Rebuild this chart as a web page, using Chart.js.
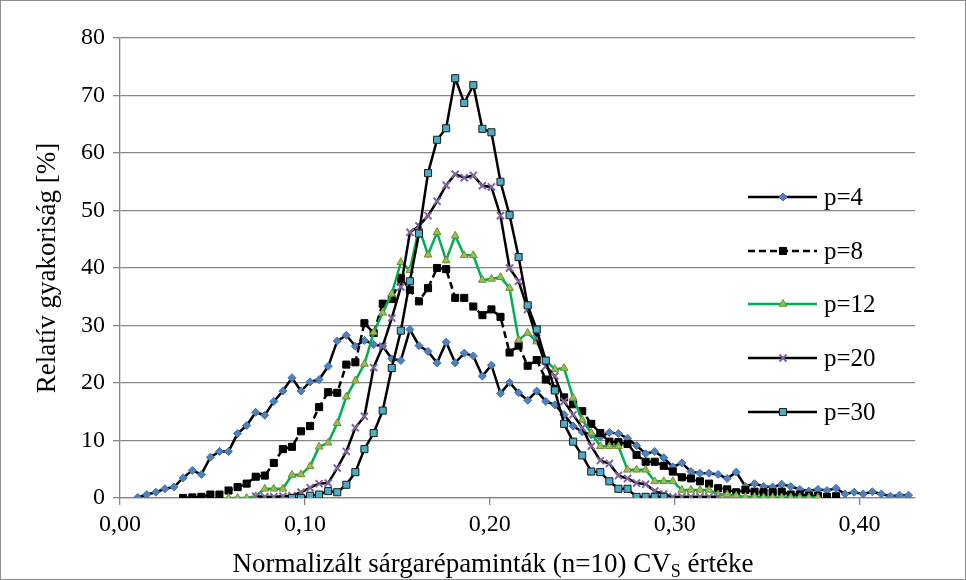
<!DOCTYPE html>
<html>
<head>
<meta charset="utf-8">
<script src="https://cdn.jsdelivr.net/npm/chart.js@4.4.0/dist/chart.umd.min.js"></script>
<style>
  html, body { margin: 0; background: #fff; }
  #wrap { width: 966px; height: 580px; position: relative; }
</style>
</head>
<body>
<div id="wrap"><canvas id="chart" width="966" height="580"></canvas></div>
<script>
// ===== CV eloszlás — relatív gyakoriság p szerint =====

// x bins (normalizált CV értékek), shared by all series
const cvBins = [
  0.0096, 0.0145, 0.0194, 0.0243, 0.0292, 0.0341, 0.0391, 0.0440, 0.0489, 0.0538,
  0.0587, 0.0636, 0.0685, 0.0734, 0.0783, 0.0832, 0.0881, 0.0930, 0.0979, 0.1028,
  0.1077, 0.1126, 0.1175, 0.1224, 0.1273, 0.1322, 0.1372, 0.1421, 0.1470, 0.1519,
  0.1568, 0.1617, 0.1666, 0.1715, 0.1764, 0.1813, 0.1862, 0.1911, 0.1960, 0.2009,
  0.2058, 0.2107, 0.2156, 0.2205, 0.2254, 0.2303, 0.2352, 0.2402, 0.2451, 0.2500,
  0.2549, 0.2598, 0.2647, 0.2696, 0.2745, 0.2794, 0.2843, 0.2892, 0.2941, 0.2990,
  0.3039, 0.3088, 0.3137, 0.3186, 0.3235, 0.3284, 0.3333, 0.3383, 0.3432, 0.3481,
  0.3530, 0.3579, 0.3628, 0.3677, 0.3726, 0.3775, 0.3824, 0.3873, 0.3922, 0.3971,
  0.4020, 0.4069, 0.4118, 0.4167, 0.4216, 0.4265,
];

// each series: index of its first bin + values [%]
const p4Start = 0;
const p4 = [
  0.1, 0.6, 1.0, 1.6, 1.9, 3.5, 4.8, 4.1, 7.1, 8.1,
  8.1, 11.2, 12.6, 14.9, 14.4, 16.8, 18.6, 20.9, 18.6, 20.2,
  20.6, 22.9, 27.3, 28.3, 26.4, 27.4, 26.7, 26.4, 24.2, 23.9,
  29.3, 26.5, 25.5, 23.5, 27.1, 23.5, 25.2, 24.7, 21.2, 23.1,
  18.2, 20.1, 18.3, 17.0, 18.6, 16.8, 16.2, 14.5, 12.5, 11.5,
  11.0, 10.6, 11.4, 11.2, 10.4, 9.1, 7.7, 8.1, 7.0, 5.4,
  6.1, 4.6, 4.3, 4.3, 4.1, 3.4, 4.5, 2.0, 2.5, 2.0,
  1.9, 2.4, 2.0, 1.5, 1.2, 1.5, 1.3, 1.7, 0.7, 1.0,
  0.7, 1.1, 0.7, 0.3, 0.5, 0.5,
];

const p8Start = 5;
const p8 = [
  0.0, 0.1, 0.2, 0.6, 0.6, 1.3, 1.9, 2.5, 3.7, 3.9,
  6.1, 8.5, 8.9, 11.6, 12.5, 15.8, 18.4, 18.3, 23.2, 23.6,
  30.4, 28.7, 33.8, 34.6, 38.3, 36.2, 34.2, 36.5, 40.0, 39.8,
  34.8, 34.8, 33.3, 31.8, 32.8, 31.5, 25.3, 26.5, 23.0, 24.0,
  20.6, 19.0, 17.5, 16.3, 15.1, 12.9, 11.3, 9.8, 9.7, 9.4,
  7.5, 6.3, 6.3, 5.6, 4.6, 3.6, 3.4, 2.9, 2.5, 1.7,
  1.5, 1.0, 1.4, 1.1, 1.0, 1.0, 1.1, 0.6, 0.6, 0.4,
  0.4, 0.2, 0.3,
];

const p12Start = 10;
const p12 = [
  0.0, 0.0, 0.0, 0.3, 1.6, 1.6, 1.6, 4.0, 4.1, 5.5,
  8.9, 9.6, 13.0, 17.6, 20.4, 23.3, 28.8, 32.2, 35.5, 41.0,
  39.6, 47.0, 42.3, 46.2, 41.3, 45.6, 42.2, 42.2, 37.9, 38.1,
  38.4, 36.5, 27.5, 28.7, 27.2, 23.9, 22.4, 22.6, 17.4, 13.6,
  11.3, 9.0, 9.0, 9.0, 4.9, 4.9, 4.9, 2.9, 2.9, 2.9,
  1.4, 1.4, 1.4, 1.4, 0.6, 0.6, 0.4, 0.2, 0.2, 0.1,
  0.1, 0.1, 0.1, 0.1, 0.1, 0.1,
];

const p20Start = 13;
const p20 = [
  0.3, 0.2, 0.2, 0.3, 0.4, 1.0, 1.8, 2.5, 2.6, 5.2,
  8.1, 12.2, 14.2, 22.7, 26.4, 31.3, 36.7, 46.2, 47.3, 49.1,
  51.6, 54.4, 56.3, 55.7, 56.1, 54.3, 54.1, 49.1, 40.0, 37.7,
  32.8, 27.8, 22.9, 21.2, 16.8, 14.5, 12.2, 9.0, 6.5, 6.0,
  3.9, 3.4, 2.6, 2.4, 1.2, 0.7, 0.2, 0.2, 0.2, 0.2,
  0.2, 0.2,
];

const p30Start = 17;
const p30 = [
  0.0, 0.0, 0.4, 0.6, 1.2, 1.0, 2.3, 4.5, 8.5, 11.3,
  15.2, 22.6, 29.1, 37.7, 46.0, 56.5, 62.3, 64.3, 73.0, 68.7,
  71.8, 64.2, 63.6, 55.0, 49.2, 41.9, 33.5, 29.3, 23.9, 18.7,
  12.9, 9.8, 7.4, 4.6, 4.5, 2.9, 1.6, 1.6, 0.2, 0.2,
  0.2, 0.2,
];

const yTicks = { min: 0, max: 80, step: 10 };
const xTicks = { min: 0, max: 0.43, step: 0.1 };

const SERIF = '"Liberation Serif", "Times New Roman", serif';
const GRID  = '#868686';

const seriesDefs = [
  { label: 'p=4',  start: p4Start,  values: p4,  line: '#000000', dash: [],     marker: 'rectRot',  r: 4,   fill: '#4f81bd', stroke: '#3d6fb0', bw: 1 },
  { label: 'p=8',  start: p8Start,  values: p8,  line: '#000000', dash: [7, 4], marker: 'rect',     r: 5,   fill: '#000000', stroke: '#000000', bw: 1 },
  { label: 'p=12', start: p12Start, values: p12, line: '#00b050', dash: [],     marker: 'triangle', r: 4.5, fill: '#9bbb59', stroke: '#6f8f30', bw: 1 },
  { label: 'p=20', start: p20Start, values: p20, line: '#000000', dash: [],     marker: 'crossRot', r: 5,   fill: '#8064a2', stroke: '#8064a2', bw: 2 },
  { label: 'p=30', start: p30Start, values: p30, line: '#000000', dash: [],     marker: 'rect',     r: 5,   fill: '#4bacc6', stroke: '#1a1a1a', bw: 1 },
];

const datasets = seriesDefs.map((s, i) => ({
  label: s.label,
  data: s.values.map((y, k) => ({ x: cvBins[s.start + k], y })),
  borderColor: s.line,
  borderWidth: 2.5,
  borderDash: s.dash,
  pointStyle: s.marker,
  pointRadius: s.r,
  pointBackgroundColor: s.fill,
  pointBorderColor: s.stroke,
  pointBorderWidth: s.bw,
  tension: 0,
  fill: false,
  order: seriesDefs.length - i,   // later series on top, like Excel
}));

// custom legend + axis titles (x title needs a subscript)
const decorPlugin = {
  id: 'decor',
  afterDraw(chart) {
    const ctx = chart.ctx;
    ctx.save();

    // legend rows inside the plot
    const rowsY = [197, 251, 304, 358, 412];
    seriesDefs.forEach((s, i) => {
      const y = rowsY[i];
      ctx.strokeStyle = s.line;
      ctx.lineWidth = 2.5;
      ctx.setLineDash(s.dash);
      ctx.beginPath();
      ctx.moveTo(748, y);
      ctx.lineTo(817, y);
      ctx.stroke();
      ctx.setLineDash([]);
      ctx.fillStyle = s.fill;
      ctx.strokeStyle = s.stroke;
      ctx.lineWidth = s.bw;
      Chart.helpers.drawPoint(ctx, { pointStyle: s.marker, radius: s.r, borderWidth: s.bw, rotation: 0 }, 783, y);
      ctx.fillStyle = '#000';
      ctx.font = '25px ' + SERIF;
      ctx.textAlign = 'left';
      ctx.textBaseline = 'middle';
      ctx.fillText(s.label, 824, y + 1);
    });

    // x axis title with subscript
    const big = '27px ' + SERIF, small = '18px ' + SERIF;
    const partA = 'Normalizált sárgarépaminták (n=10) CV', partS = 'S', partB = ' értéke';
    ctx.font = big;   const wA = ctx.measureText(partA).width, wB = ctx.measureText(partB).width;
    ctx.font = small; const wS = ctx.measureText(partS).width;
    let x0 = 493 - (wA + wS + wB) / 2;
    const base = 572;
    ctx.textAlign = 'left';
    ctx.textBaseline = 'alphabetic';
    ctx.fillStyle = '#000';
    ctx.font = big;   ctx.fillText(partA, x0, base); x0 += wA;
    ctx.font = small; ctx.fillText(partS, x0, base + 5); x0 += wS;
    ctx.font = big;   ctx.fillText(partB, x0, base);

    // y axis title
    ctx.translate(48, 268);
    ctx.rotate(-Math.PI / 2);
    ctx.font = big;
    ctx.textAlign = 'center';
    ctx.textBaseline = 'middle';
    ctx.fillText('Relatív gyakoriság [%]', 0, 0);
    ctx.restore();

    // outer chart frame
    ctx.save();
    ctx.strokeStyle = '#8c8c8c';
    ctx.lineWidth = 1;
    ctx.strokeRect(0.5, 0.5, 965, 579);
    ctx.restore();
  },
};

new Chart(document.getElementById('chart'), {
  type: 'line',
  data: { datasets },
  plugins: [decorPlugin],
  options: {
    responsive: false,
    animation: false,
    layout: { padding: { top: 38, right: 51, bottom: 0, left: 0 } },
    plugins: { legend: { display: false }, tooltip: { enabled: false } },
    scales: {
      x: {
        type: 'linear',
        min: xTicks.min,
        max: xTicks.max,
        afterFit: s => { s.height = 82; },
        ticks: {
          stepSize: xTicks.step,
          includeBounds: false,
          maxRotation: 0,
          padding: 5,
          color: '#000',
          font: { family: SERIF, size: 24 },
          callback: v => Number(v).toFixed(2).replace('.', ','),
        },
        grid: { drawOnChartArea: false, drawTicks: true, tickLength: 7, color: GRID, lineWidth: 1.3 },
        border: { color: GRID, width: 1.3 },
      },
      y: {
        min: yTicks.min,
        max: yTicks.max,
        afterFit: s => { s.width = 120; },
        ticks: {
          stepSize: yTicks.step,
          padding: 8,
          color: '#000',
          font: { family: SERIF, size: 24 },
        },
        grid: { color: GRID, lineWidth: 1.3, tickLength: 7 },
        border: { color: GRID, width: 1.3 },
      },
    },
  },
});
</script>
</body>
</html>
